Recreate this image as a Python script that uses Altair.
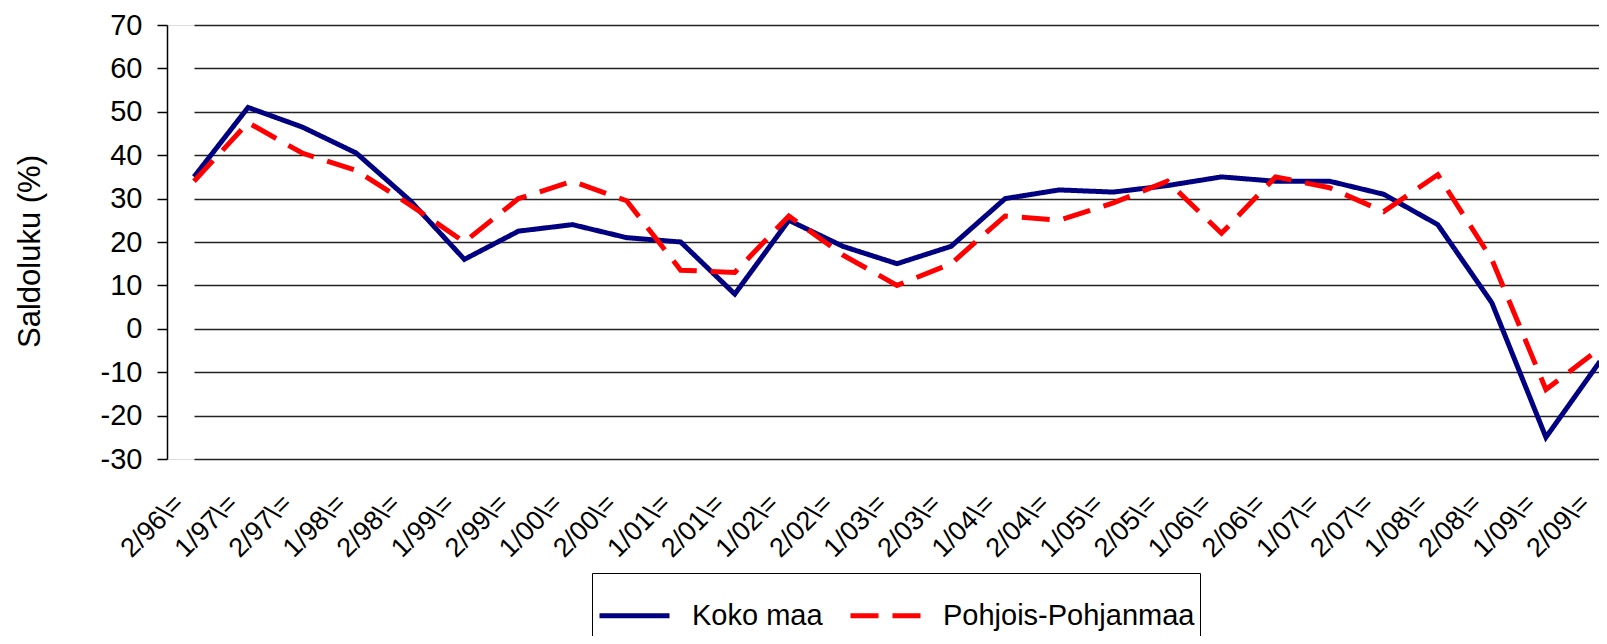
import altair as alt
import pandas as pd

labels = ["2/96\\=", "1/97\\=", "2/97\\=", "1/98\\=", "2/98\\=", "1/99\\=", "2/99\\=",
          "1/00\\=", "2/00\\=", "1/01\\=", "2/01\\=", "1/02\\=", "2/02\\=", "1/03\\=",
          "2/03\\=", "1/04\\=", "2/04\\=", "1/05\\=", "2/05\\=", "1/06\\=", "2/06\\=",
          "1/07\\=", "2/07\\=", "1/08\\=", "2/08\\=", "1/09\\=", "2/09\\="]

koko_maa = [35, 51, 46.5, 40.5, 29.5, 16, 22.5, 24, 21, 20, 8, 25, 19, 15, 19, 30,
            32, 31.5, 33, 35, 34, 34, 31, 24, 6, -25, -7.5]

pohjois_pohjanmaa = [34, 47.5, 40.5, 36.5, 28.5, 20, 30, 34, 29.5, 13.5, 13, 26, 17, 10,
                     15, 26, 25, 29, 34, 22, 35, 32.5, 27, 35.5, 16, -14, -4.5]

series_names = ["Koko maa", "Pohjois-Pohjanmaa"]
series_colors = ["#000080", "#FF0000"]
series_dashes = [[1, 0], [28, 14]]
y_ticks = list(range(-30, 80, 10))

rows = []
for i, lab in enumerate(labels):
    rows.append({"label": lab, "series": series_names[0], "value": koko_maa[i], "ord": 0})
for i, lab in enumerate(labels):
    rows.append({"label": lab, "series": series_names[1], "value": pohjois_pohjanmaa[i], "ord": 1})
df = pd.DataFrame(rows)

FONT = "Liberation Sans"

legend_props = dict(
    orient="none", legendX=425, legendY=548, direction="horizontal", title=None,
    symbolType="stroke", symbolSize=70 * 70, symbolStrokeWidth=5,
    labelFontSize=29, labelFont=FONT, labelColor="black", labelOffset=20,
    columnPadding=17, padding=5, strokeColor="black", fillColor="white",
    labelLimit=500,
)

chart = alt.Chart(df).mark_line(strokeWidth=5, clip=True).encode(
    x=alt.X("label:N", sort=labels,
            scale=alt.Scale(type="point", range=[27, 1433], padding=0),
            axis=alt.Axis(title=None, labelAngle=-45, labelAlign="right",
                          labelBaseline="middle", labelOffset=-15, labelPadding=40,
                          ticks=False, tickSize=0, domain=False, grid=False,
                          labelFontSize=27, labelFont=FONT, labelColor="black",
                          labelOverlap=False)),
    y=alt.Y("value:Q", scale=alt.Scale(domain=[-30, 70], nice=False, zero=False),
            axis=alt.Axis(values=y_ticks, grid=True, gridColor="#222", gridWidth=1.5,
                          domainColor="black", domainWidth=1.5, tickColor="black",
                          tickSize=10, tickWidth=1.5, labelFontSize=29, labelFont=FONT,
                          labelPadding=15, labelColor="black",
                          labelExpr="'' + datum.value",
                          title="Saldoluku (%)", titleFontSize=31, titleFont=FONT,
                          titleFontWeight="normal", titleColor="black",
                          titleX=-137, titleY=226, titleAngle=270,
                          titleAlign="center", titleBaseline="middle")),
    color=alt.Color("series:N", scale=alt.Scale(domain=series_names, range=series_colors),
                    legend=alt.Legend(**legend_props)),
    strokeDash=alt.StrokeDash("series:N",
                              scale=alt.Scale(domain=series_names, range=series_dashes),
                              legend=alt.Legend(**legend_props)),
    order=alt.Order("ord:Q"),
).properties(
    width=1432, height=434,
    autosize=alt.AutoSizeParams(type="none"),
    padding={"left": 159, "top": 17, "right": 0, "bottom": 177},
).configure_view(stroke=None).configure(font=FONT)

chart.save("out.html", embed_options={"renderer": "svg", "actions": False})
